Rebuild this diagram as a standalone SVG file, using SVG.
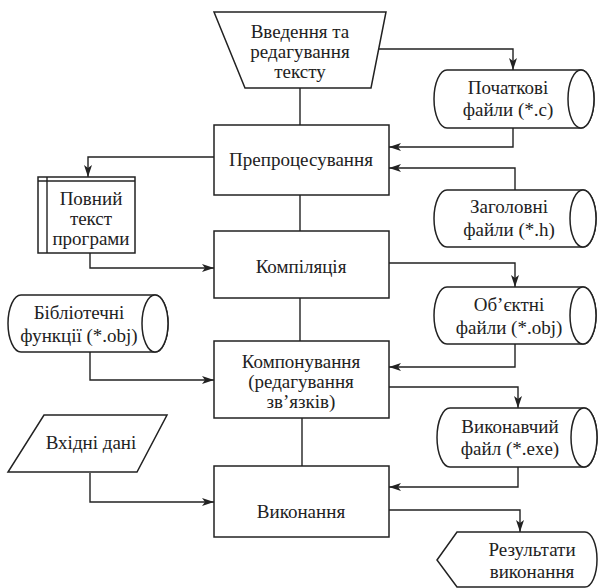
<svg xmlns="http://www.w3.org/2000/svg" width="599" height="588" viewBox="0 0 599 588">
<defs>
<marker id="arr" viewBox="0 0 12 8" refX="12" refY="4" markerWidth="12" markerHeight="8" markerUnits="userSpaceOnUse" orient="auto">
<path d="M0,0 L12,4 L0,8 L3,4 Z" fill="#222"/>
</marker>
<style>
.s{fill:#fff;stroke:#222;stroke-width:1.5}
.c{fill:none;stroke:#222;stroke-width:1.4}
.a{marker-end:url(#arr)}
text{font-family:"Liberation Serif","Times New Roman",serif;font-size:19px;fill:#222;text-anchor:middle}
</style>
</defs>
<rect width="599" height="588" fill="#fff"/>
<g id="connectors">
<polyline class="c a" points="377,49 513,49 513,70"/>
<polyline class="c" points="300,88 300,125"/>
<polyline class="c a" points="513,128 513,147 389,147"/>
<polyline class="c a" points="515,190 515,168 389,168"/>
<polyline class="c a" points="214,157 88,157 88,177"/>
<polyline class="c" points="300,195 300,231"/>
<polyline class="c a" points="90,253 90,268 214,268"/>
<polyline class="c a" points="389,263 515,263 515,287"/>
<polyline class="c" points="300,298 300,341"/>
<polyline class="c a" points="515,344 515,367 389,367"/>
<polyline class="c a" points="90,352 90,380 214,380"/>
<polyline class="c a" points="389,387 518,387 518,408"/>
<polyline class="c" points="302,418 302,466"/>
<polyline class="c a" points="518,467 518,487 389,487"/>
<polyline class="c a" points="90,473 90,502 214,502"/>
<polyline class="c a" points="389,510 520,510 520,532"/>
</g>
<g id="edit">
<polygon class="s" points="214,12 386,12 371,88 245,88"/>
<text x="300" y="38">Введення та</text>
<text x="300" y="58">редагування</text>
<text x="300" y="78">тексту</text>
</g>
<g id="src">
<path class="s" d="M447,70 H581 A13,29 0 0 1 581,128 H447 A13,29 0 0 1 447,70 Z"/>
<ellipse class="s" cx="581" cy="99" rx="13" ry="29"/>
<text x="508" y="94">Початкові</text>
<text x="508" y="116">файли (*.c)</text>
</g>
<g id="prep">
<rect class="s" x="214" y="125" width="175" height="70"/>
<text x="301" y="166">Препроцесування</text>
</g>
<g id="full">
<rect class="s" x="38" y="177" width="97" height="76"/>
<line class="c" x1="38" y1="181" x2="135" y2="181"/>
<line class="c" x1="47" y1="177" x2="47" y2="253"/>
<text x="91" y="205">Повний</text>
<text x="91" y="225">текст</text>
<text x="91" y="245">програми</text>
</g>
<g id="hdr">
<path class="s" d="M447,190 H583 A13,28.5 0 0 1 583,247 H447 A13,28.5 0 0 1 447,190 Z"/>
<ellipse class="s" cx="583" cy="218.5" rx="13" ry="28.5"/>
<text x="509" y="213">Заголовні</text>
<text x="509" y="236">файли (*.h)</text>
</g>
<g id="comp">
<rect class="s" x="214" y="231" width="175" height="67"/>
<text x="301" y="273">Компіляція</text>
</g>
<g id="obj">
<path class="s" d="M447,287 H583 A13,28.5 0 0 1 583,344 H447 A13,28.5 0 0 1 447,287 Z"/>
<ellipse class="s" cx="583" cy="315.5" rx="13" ry="28.5"/>
<text x="509" y="311">Об’єктні</text>
<text x="509" y="334">файли (*.obj)</text>
</g>
<g id="lib">
<path class="s" d="M21,295 H155 A13,28.5 0 0 1 155,352 H21 A13,28.5 0 0 1 21,295 Z"/>
<ellipse class="s" cx="155" cy="323.5" rx="13" ry="28.5"/>
<text x="79" y="319">Бібліотечні</text>
<text x="79" y="342">функції (*.obj)</text>
</g>
<g id="link">
<rect class="s" x="214" y="341" width="175" height="77"/>
<text x="301" y="368">Компонування</text>
<text x="301" y="388">(редагування</text>
<text x="301" y="408">зв’язків)</text>
</g>
<g id="exe">
<path class="s" d="M450,408 H584 A13,29.5 0 0 1 584,467 H450 A13,29.5 0 0 1 450,408 Z"/>
<ellipse class="s" cx="584" cy="437.5" rx="13" ry="29.5"/>
<text x="510" y="433">Виконавчий</text>
<text x="510" y="455">файл (*.exe)</text>
</g>
<g id="input">
<polygon class="s" points="44,415 167,415 137,472 8,472"/>
<text x="91" y="449">Вхідні дані</text>
</g>
<g id="run">
<rect class="s" x="214" y="466" width="175" height="71"/>
<text x="301" y="518">Виконання</text>
</g>
<g id="result">
<path class="s" d="M437,560 L457,532 H585 A12,27.5 0 0 1 585,587 H457 Z"/>
<text x="532" y="556">Результати</text>
<text x="532" y="578">виконання</text>
</g>
</svg>
